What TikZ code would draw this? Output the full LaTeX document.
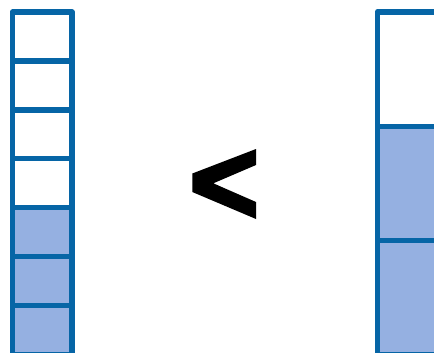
\documentclass[tikz,border=0pt]{standalone}
\definecolor{edgeblue}{RGB}{6,101,166}
\definecolor{fillblue}{RGB}{149,176,225}
\begin{document}
\begin{tikzpicture}[x=1pt,y=-1pt,
  cell/.style={draw=edgeblue,line width=5.5pt,line join=round},
  full/.style={cell,fill=fillblue},
  empty/.style={cell,fill=white}]
\useasboundingbox (0,0) rectangle (434,353);
\clip (0,0) rectangle (434,353);
% left column: 7 cells
\foreach \i in {0,1,2,3} {
  \draw[empty] (12.5,{12+48.9*\i}) rectangle (72,{12+48.9*(\i+1)});
}
\foreach \i in {4,5,6} {
  \draw[full] (12.5,{12+48.9*\i}) rectangle (72,{12+48.9*(\i+1)});
}
% right column: 3 cells
\draw[empty] (377.3,12) rectangle (480,126.3);
\draw[full] (377.3,126.3) rectangle (480,240.3);
\draw[full] (377.3,240.3) rectangle (480,354.5);
% less-than sign
\fill[black] (256,149) -- (192.3,173.5) -- (192.3,192) -- (256,219) -- (256,202)
  -- (213.3,183.3) -- (256,165) -- cycle;
\end{tikzpicture}
\end{document}
